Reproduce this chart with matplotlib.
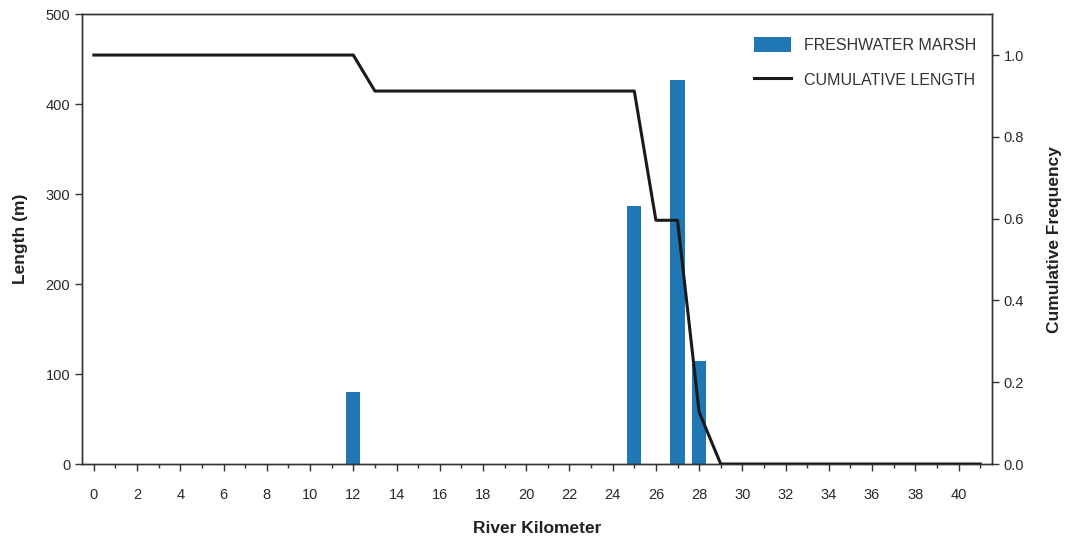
import matplotlib
matplotlib.use("Agg")
import matplotlib.pyplot as plt
from matplotlib.ticker import MultipleLocator, FormatStrFormatter

plt.rcParams['font.family'] = ['Liberation Sans', 'DejaVu Sans']

# Data
bar_km = [12, 25, 27, 28]
bar_length = [80, 287, 427, 115]
cum_km = [0, 12, 13, 25, 26, 27, 28, 29, 41]
cum_freq = [1.0, 1.0, 0.912, 0.912, 0.596, 0.596, 0.127, 0.0, 0.0]

fig = plt.figure(figsize=(10.69, 5.44), dpi=100)
ax = fig.add_axes([0.0767, 0.147, 0.8513, 0.827])
ax2 = ax.twinx()

bars = ax.bar(bar_km, bar_length, width=0.65, color='#1f77b4', zorder=2)
line, = ax2.plot(cum_km, cum_freq, color='#1a1a1a', lw=2.2, zorder=3)

ax.set_xlim(-0.55, 41.55)
ax.set_ylim(0, 500)
ax2.set_ylim(0, 1.1)

ax.xaxis.set_major_locator(MultipleLocator(2))
ax.xaxis.set_minor_locator(MultipleLocator(1))
ax.yaxis.set_major_locator(MultipleLocator(100))
ax2.yaxis.set_major_locator(MultipleLocator(0.2))
ax2.yaxis.set_major_formatter(FormatStrFormatter('%.1f'))

for a in (ax, ax2):
    for s in a.spines.values():
        s.set_color('#333333')
        s.set_linewidth(1.0)
    a.tick_params(axis='both', which='major', direction='out', length=5, width=1,
                  colors='#333333', labelsize=10.5, labelcolor='#2a2a2a')
    a.tick_params(axis='both', which='minor', direction='out', length=3, width=1, colors='#333333')
ax.tick_params(axis='x', which='major', pad=12)

ax.set_xlabel('River Kilometer', fontsize=12.5, fontweight='bold', color='#222222', labelpad=14)
ax.set_ylabel('Length (m)', fontsize=12.5, fontweight='bold', color='#222222', labelpad=13)
ax2.set_ylabel('Cumulative Frequency', fontsize=12.5, fontweight='bold', color='#222222', labelpad=16)

leg = ax.legend([bars, line], ['FRESHWATER MARSH', 'CUMULATIVE LENGTH'],
                loc='upper right', bbox_to_anchor=(0.998, 0.982), frameon=False,
                fontsize=11.5, handlelength=2.3, handleheight=1.1, labelspacing=1.2,
                handletextpad=0.8)
for t in leg.get_texts():
    t.set_color('#333333')

fig.savefig('out.png', dpi=100)
